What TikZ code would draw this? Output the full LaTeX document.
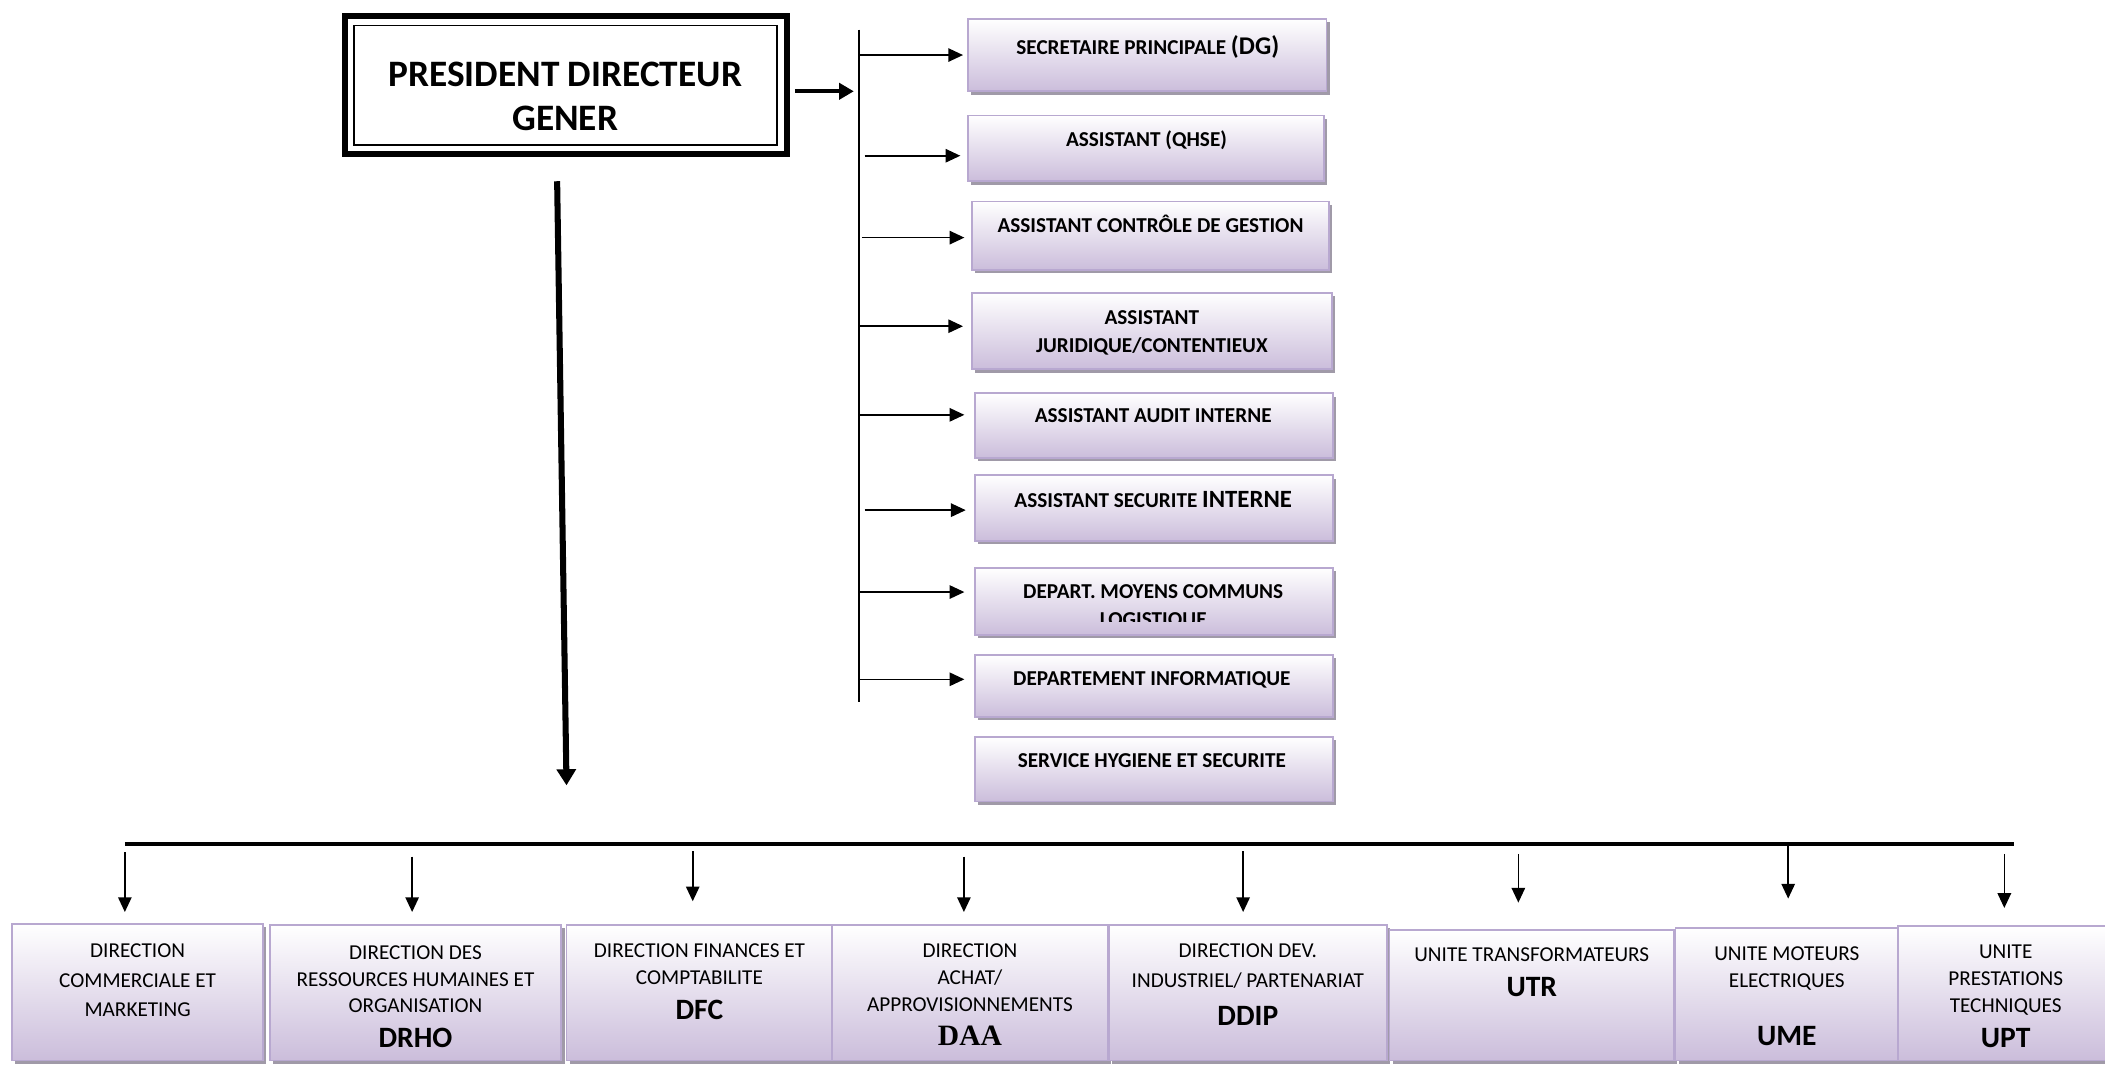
\documentclass[tikz,border=0pt]{standalone}
\usepackage{fontspec}
\setmainfont{Carlito}
\newfontfamily\timesfam{Liberation Serif}
\usetikzlibrary{arrows.meta,shadows,fit}
\definecolor{boxedge}{HTML}{B8A8D0}
\definecolor{boxbot}{HTML}{CBBDDB}
\definecolor{shadowc}{HTML}{A09AA8}
\newcommand\rfont{\fontsize{15.8}{21}\selectfont\bfseries}
\newcommand\bfont{\fontsize{15.8}{20}\selectfont}
\newcommand\abbr[1]{{\fontsize{22}{24}\selectfont\bfseries #1}}
\tikzset{
  orgbox/.style={draw=boxedge, line width=1.3pt, top color=white, bottom color=boxbot,
    inner sep=0pt,
    drop shadow={shadow xshift=2.5pt, shadow yshift=-2.5pt, fill=shadowc, opacity=1}},
  rlabel/.style={font=\rfont, align=center, inner sep=0pt, anchor=north},
  blabel/.style={font=\bfont, align=center, inner sep=0pt, anchor=north},
  harr/.style={line width=1.2pt, -{Triangle[length=11pt,width=10pt]}},
  varr/.style={line width=1.2pt, -{Triangle[length=11pt,width=10pt]}},
  spine/.style={line width=1.3pt},
  bus/.style={line width=3pt},
  thickarr/.style={line width=3pt, -{Triangle[length=11pt,width=12pt]}},
  bigarr/.style={line width=4.5pt, -{Triangle[length=12pt,width=14pt]}}
}
\begin{document}
\begin{tikzpicture}[x=1pt,y=-1pt]
\useasboundingbox (0,0) rectangle (1568,793);
\fill[white] (0,0) rectangle (1568,793);

% President
\node[draw, line width=4.5pt, fit={(257,12)(586,115)}, inner sep=0pt] (pdg) {};
\node[draw, line width=1.4pt, fit={(264,19)(579,108)}, inner sep=0pt] (pdgin) {};
\node[font=\fontsize{27.8}{33}\selectfont\bfseries, align=center, inner sep=0pt, anchor=north] (pdgt) at (421,46) {PRESIDENT DIRECTEUR\\GENER};

% spine and president arrow
\coordinate (sptop) at (640,22);
\coordinate (spbot) at (640,523);
\draw[spine] (sptop) -- (spbot);
\coordinate (pe) at (592,68);
\coordinate (pt) at (636,68);
\draw[thickarr] (pe) -- (pt);

% right boxes
\node[orgbox, fit={(721,14)(988,68)}] (r1) {};
\node[orgbox, fit={(721,86)(986,135)}] (r2) {};
\node[orgbox, fit={(724,150)(990,201)}] (r3) {};
\node[orgbox, fit={(724,218)(992,275)}] (r4) {};
\node[orgbox, fit={(726,293)(993,341)}] (r5) {};
\node[orgbox, fit={(726,354)(993,403)}] (r6) {};
\node[orgbox, fit={(726,423)(993,473)}] (r7) {};
\node[orgbox, fit={(726,488)(993,534)}] (r8) {};
\node[orgbox, fit={(726,549)(993,597)}] (r9) {};

\node[rlabel] (r1t) at (855,26) {SECRETAIRE PRINCIPALE {\fontsize{19}{21}\selectfont(DG)}};
\node[rlabel] (r2t) at (854,97) {ASSISTANT (QHSE)};
\node[rlabel] (r3t) at (857,160) {ASSISTANT CONTR\^OLE DE GESTION};
\node[rlabel] (r4t) at (858,231) {ASSISTANT\\JURIDIQUE/CONTENTIEUX};
\node[rlabel] (r5t) at (859,304) {ASSISTANT AUDIT INTERNE};
\node[rlabel] (r6t) at (859,366) {ASSISTANT SECURITE {\fontsize{18.5}{21}\selectfont INTERNE}};
\begin{scope}
\clip (727,424) rectangle (992,463);
\node[rlabel] (r7t) at (859,435) {DEPART. MOYENS COMMUNS\\LOGISTIQUE};
\end{scope}
\node[rlabel] (r8t) at (858,500) {DEPARTEMENT INFORMATIQUE};
\node[rlabel] (r9t) at (858,561) {SERVICE HYGIENE ET SECURITE};

% right arrows
\coordinate (s1) at (640,41);
\coordinate (s2) at (644,116);
\coordinate (s3) at (642,177);
\coordinate (s4) at (640,243);
\coordinate (s5) at (640,309);
\coordinate (s6) at (644,380);
\coordinate (s7) at (640,441);
\coordinate (s8) at (640,506);
\draw[harr, shorten >=3pt] (s1) -- (s1 -| r1.west);
\draw[harr, shorten >=5pt] (s2) -- (s2 -| r2.west);
\draw[harr, shorten >=5pt] (s3) -- (s3 -| r3.west);
\draw[harr, shorten >=6pt] (s4) -- (s4 -| r4.west);
\draw[harr, shorten >=7pt] (s5) -- (s5 -| r5.west);
\draw[harr, shorten >=6pt] (s6) -- (s6 -| r6.west);
\draw[harr, shorten >=7pt] (s7) -- (s7 -| r7.west);
\draw[harr, shorten >=7pt] (s8) -- (s8 -| r8.west);

% big arrow down
\coordinate (ba) at (415,135);
\coordinate (bb) at (422,585);
\draw[bigarr] (ba) -- (bb);

% bus
\coordinate (busl) at (93,629);
\coordinate (busr) at (1500,629);
\draw[bus] (busl) -- (busr);

% bottom boxes
\node[orgbox, fit={(9,688)(196,790)}] (c1) {};
\node[orgbox, fit={(201,689)(418,790)}] (c2) {};
\node[orgbox, fit={(422,689)(620,790)}] (c3) {};
\node[orgbox, fit={(620,689)(825,790)}] (c4) {};
\node[orgbox, fit={(826,689)(1033,790)}] (c5) {};
\node[orgbox, fit={(1035,693)(1247,790)}] (c6) {};
\node[orgbox, fit={(1248,691)(1414,790)}] (c7) {};
\node[orgbox, fit={(1414,690)(1576,790)}] (c8) {};

\node[blabel, font=\fontsize{15.8}{22}\selectfont] (c1t) at (102.5,703) {DIRECTION\\COMMERCIALE ET\\MARKETING};
\node[blabel] (c2t) at (309.5,704) {DIRECTION DES\\RESSOURCES HUMAINES ET\\ORGANISATION\\[5.6pt]\abbr{DRHO}};
\node[blabel] (c3t) at (521,703) {DIRECTION FINANCES ET\\COMPTABILITE\\[5.6pt]\abbr{DFC}};
\node[blabel] (c4t) at (722.5,703) {DIRECTION\\ACHAT/\\APPROVISIONNEMENTS\\[5.6pt]{\timesfam\fontsize{22}{24}\selectfont\bfseries DAA}};
\node[blabel, font=\fontsize{15.8}{22}\selectfont] (c5t) at (929.5,703) {DIRECTION DEV.\\INDUSTRIEL/ PARTENARIAT\\[6.6pt]\abbr{DDIP}};
\node[blabel] (c6t) at (1141,706) {UNITE TRANSFORMATEURS\\[5.6pt]\abbr{UTR}};
\node[blabel] (c7t) at (1331,705) {UNITE MOTEURS\\ELECTRIQUES\\[23.6pt]\abbr{UME}};
\node[blabel] (c8t) at (1494,704) {UNITE\\PRESTATIONS\\TECHNIQUES\\[5.6pt]\abbr{UPT}};

% bottom arrows
\coordinate (d1) at (93,635);
\coordinate (d2) at (307,638);
\coordinate (d3) at (516,634);
\coordinate (d4) at (718,638);
\coordinate (d5) at (926,634);
\coordinate (d6) at (1131,636);
\coordinate (d7) at (1332,629);
\coordinate (d8) at (1493,636);
\draw[varr, shorten >=8pt] (d1) -- (d1 |- c1.north);
\draw[varr, shorten >=9pt] (d2) -- (d2 |- c2.north);
\draw[varr, shorten >=17pt] (d3) -- (d3 |- c3.north);
\draw[varr, shorten >=9pt] (d4) -- (d4 |- c4.north);
\draw[varr, shorten >=9pt] (d5) -- (d5 |- c5.north);
\draw[varr, shorten >=20pt] (d6) -- (d6 |- c6.north);
\draw[varr, shorten >=21pt] (d7) -- (d7 |- c7.north);
\draw[varr, shorten >=13pt] (d8) -- (d8 |- c8.north);
\end{tikzpicture}
\end{document}
